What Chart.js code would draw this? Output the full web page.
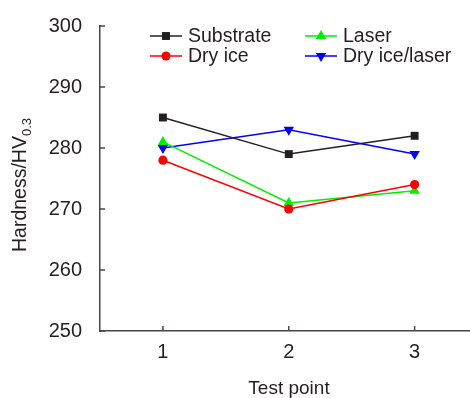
<!DOCTYPE html>
<html lang="en">
<head>
    <meta charset="UTF-8">
    <title>Hardness vs test point</title>
    <script src="https://cdn.jsdelivr.net/npm/chart.js"></script>
    <style>
        body { margin: 0; background: #fff; }
        #wrap { width: 470px; height: 398px; }
    </style>
</head>
<body>
    <div id="wrap"><canvas id="chart"></canvas></div>

    <script>
        const testPoints = [1, 2, 3];
        const yTicks = [250, 260, 270, 280, 290, 300];
        const substrate = [285, 279, 282];
        const dryIce = [278, 270, 274];
        const laser = [281, 271, 273];
        const dryIceLaser = [280, 283, 279];

        const FONT = '"Liberation Sans", Arial, sans-serif';
        const TEXT = '#231f20';
        const AXIS = '#4a4546';

        const toPts = arr => arr.map((v, i) => ({ x: testPoints[i], y: v }));

        function series(label, data, color, style, radius, rotation) {
            return {
                label, data: toPts(data),
                borderColor: color, backgroundColor: color,
                borderWidth: 1.5, pointStyle: style, pointRadius: radius,
                pointRotation: rotation || 0, pointBorderWidth: 0,
                pointHoverRadius: radius, tension: 0
            };
        }

        const datasets = [
            series('Substrate', substrate, '#231f20', 'rect', 5.6),
            series('Dry ice', dryIce, '#ff0000', 'circle', 4.6),
            series('Laser', laser, '#00ee00', 'triangle', 6),
            series('Dry ice/laser', dryIceLaser, '#0000ff', 'triangle', 6, 180)
        ];

        // inward ticks, axis titles and the two-column legend
        const extras = {
            id: 'extras',
            afterDraw(chart) {
                const ctx = chart.ctx;
                const x = chart.scales.x, y = chart.scales.y;
                const a = chart.chartArea;
                ctx.save();
                ctx.strokeStyle = AXIS;
                ctx.lineWidth = 1.5;
                ctx.beginPath();
                yTicks.forEach(t => {
                    const py = y.getPixelForValue(t);
                    ctx.moveTo(a.left, py); ctx.lineTo(a.left + 5, py);
                });
                testPoints.forEach(t => {
                    const px = x.getPixelForValue(t);
                    ctx.moveTo(px, a.bottom); ctx.lineTo(px, a.bottom - 5);
                });
                ctx.stroke();

                ctx.fillStyle = TEXT;
                ctx.textBaseline = 'middle';
                ctx.textAlign = 'center';
                ctx.font = '19px ' + FONT;
                ctx.fillText('Test point', (a.left + 478) / 2, 389);

                // y title with subscript
                ctx.save();
                ctx.translate(21, 185);
                ctx.rotate(-Math.PI / 2);
                const main = 'Hardness/HV', sub = '0.3';
                ctx.font = '19.5px ' + FONT;
                const w1 = ctx.measureText(main).width;
                ctx.font = '13px ' + FONT;
                const w2 = ctx.measureText(sub).width;
                const sx = -(w1 + w2) / 2;
                ctx.textAlign = 'left';
                ctx.font = '19.5px ' + FONT;
                ctx.fillText(main, sx, 0);
                ctx.font = '13px ' + FONT;
                ctx.fillText(sub, sx + w1, 6);
                ctx.restore();

                // legend: column 1 = Substrate, Dry ice; column 2 = Laser, Dry ice/laser
                const slots = [[150, 36], [150, 56], [305, 36], [305, 56]];
                chart.data.datasets.forEach((ds, i) => {
                    const [lx, ly] = slots[i];
                    ctx.strokeStyle = ds.borderColor;
                    ctx.lineWidth = 1.5;
                    ctx.beginPath();
                    ctx.moveTo(lx, ly); ctx.lineTo(lx + 32, ly);
                    ctx.stroke();
                    ctx.fillStyle = ds.backgroundColor;
                    Chart.helpers.drawPoint(ctx, {
                        pointStyle: ds.pointStyle, radius: ds.pointRadius,
                        rotation: ds.pointRotation, borderWidth: 0
                    }, lx + 16, ly);
                    ctx.fillStyle = TEXT;
                    ctx.textAlign = 'left';
                    ctx.font = '19.5px ' + FONT;
                    ctx.fillText(ds.label, lx + 38, ly + 1);
                });
                ctx.restore();
            }
        };

        new Chart(document.getElementById('chart'), {
            type: 'line',
            data: { datasets },
            options: {
                responsive: true,
                maintainAspectRatio: false,
                animation: false,
                layout: { autoPadding: false, padding: { top: 26, right: 0, left: 0, bottom: 0 } },
                plugins: { legend: { display: false }, tooltip: { enabled: false } },
                scales: {
                    x: {
                        type: 'linear', min: 0.5, max: 3.44,
                        afterBuildTicks: s => { s.ticks = testPoints.map(v => ({ value: v })); },
                        afterFit: s => { s.height = 67; },
                        grid: { display: false },
                        border: { display: true, color: AXIS, width: 1.5 },
                        ticks: { padding: 1, color: TEXT, font: { family: FONT, size: 20 } }
                    },
                    y: {
                        min: 250, max: 300,
                        afterBuildTicks: s => { s.ticks = yTicks.map(v => ({ value: v })); },
                        afterFit: s => { s.width = 100; },
                        grid: { display: false },
                        border: { display: true, color: AXIS, width: 1.5 },
                        ticks: { padding: 10, color: TEXT, font: { family: FONT, size: 20 } }
                    }
                }
            },
            plugins: [extras]
        });
    </script>
</body>
</html>
